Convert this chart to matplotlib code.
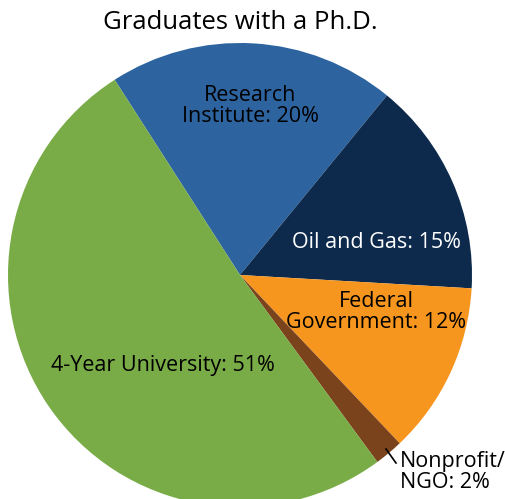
import matplotlib
matplotlib.use("Agg")
import matplotlib.pyplot as plt

plt.rcParams['font.family'] = ['Open Sans', 'DejaVu Sans']

# Data
sectors = ["Research Institute", "Oil and Gas", "Federal Government", "Nonprofit/NGO", "4-Year University"]
shares = [20, 15, 12, 2, 51]
colors = ["#2d64a0", "#0d2a4c", "#f6961f", "#7b431c", "#79ac47"]
label_text = ["Research\nInstitute: 20%", "Oil and Gas: 15%", "Federal\nGovernment: 12%",
              "Nonprofit/\nNGO: 2%", "4-Year University: 51%"]

W, H = 505, 499
fig = plt.figure(figsize=(W / 100, H / 100), dpi=100)
ax = fig.add_axes([0, 0, 1, 1])

cx, cy, r = 240, H - 275, 232
ax.pie(shares, colors=colors, startangle=122.7, counterclock=False,
       center=(cx, cy), radius=r, frame=True,
       wedgeprops=dict(linewidth=0))
ax.set_xlim(0, W)
ax.set_ylim(0, H)
ax.set_aspect('equal')
ax.axis('off')

fs = 15.5
ax.text(240, H - 22, "Graduates with a Ph.D.", ha='center', va='center', fontsize=18.5)
ax.text(250, H - 106, label_text[0], ha='center', va='center', fontsize=fs, linespacing=1.05)
ax.text(377, H - 242, label_text[1], ha='center', va='center', fontsize=fs, color='white')
ax.text(376, H - 312, label_text[2], ha='center', va='center', fontsize=fs, linespacing=1.05)
ax.text(163, H - 366, label_text[4], ha='center', va='center', fontsize=fs)
ax.text(400, H - 472, label_text[3], ha='left', va='center', fontsize=fs, linespacing=1.05)
ax.plot([386, 396], [H - 449, H - 463], color='black', linewidth=1.2)

fig.savefig("out.png", dpi=100)
